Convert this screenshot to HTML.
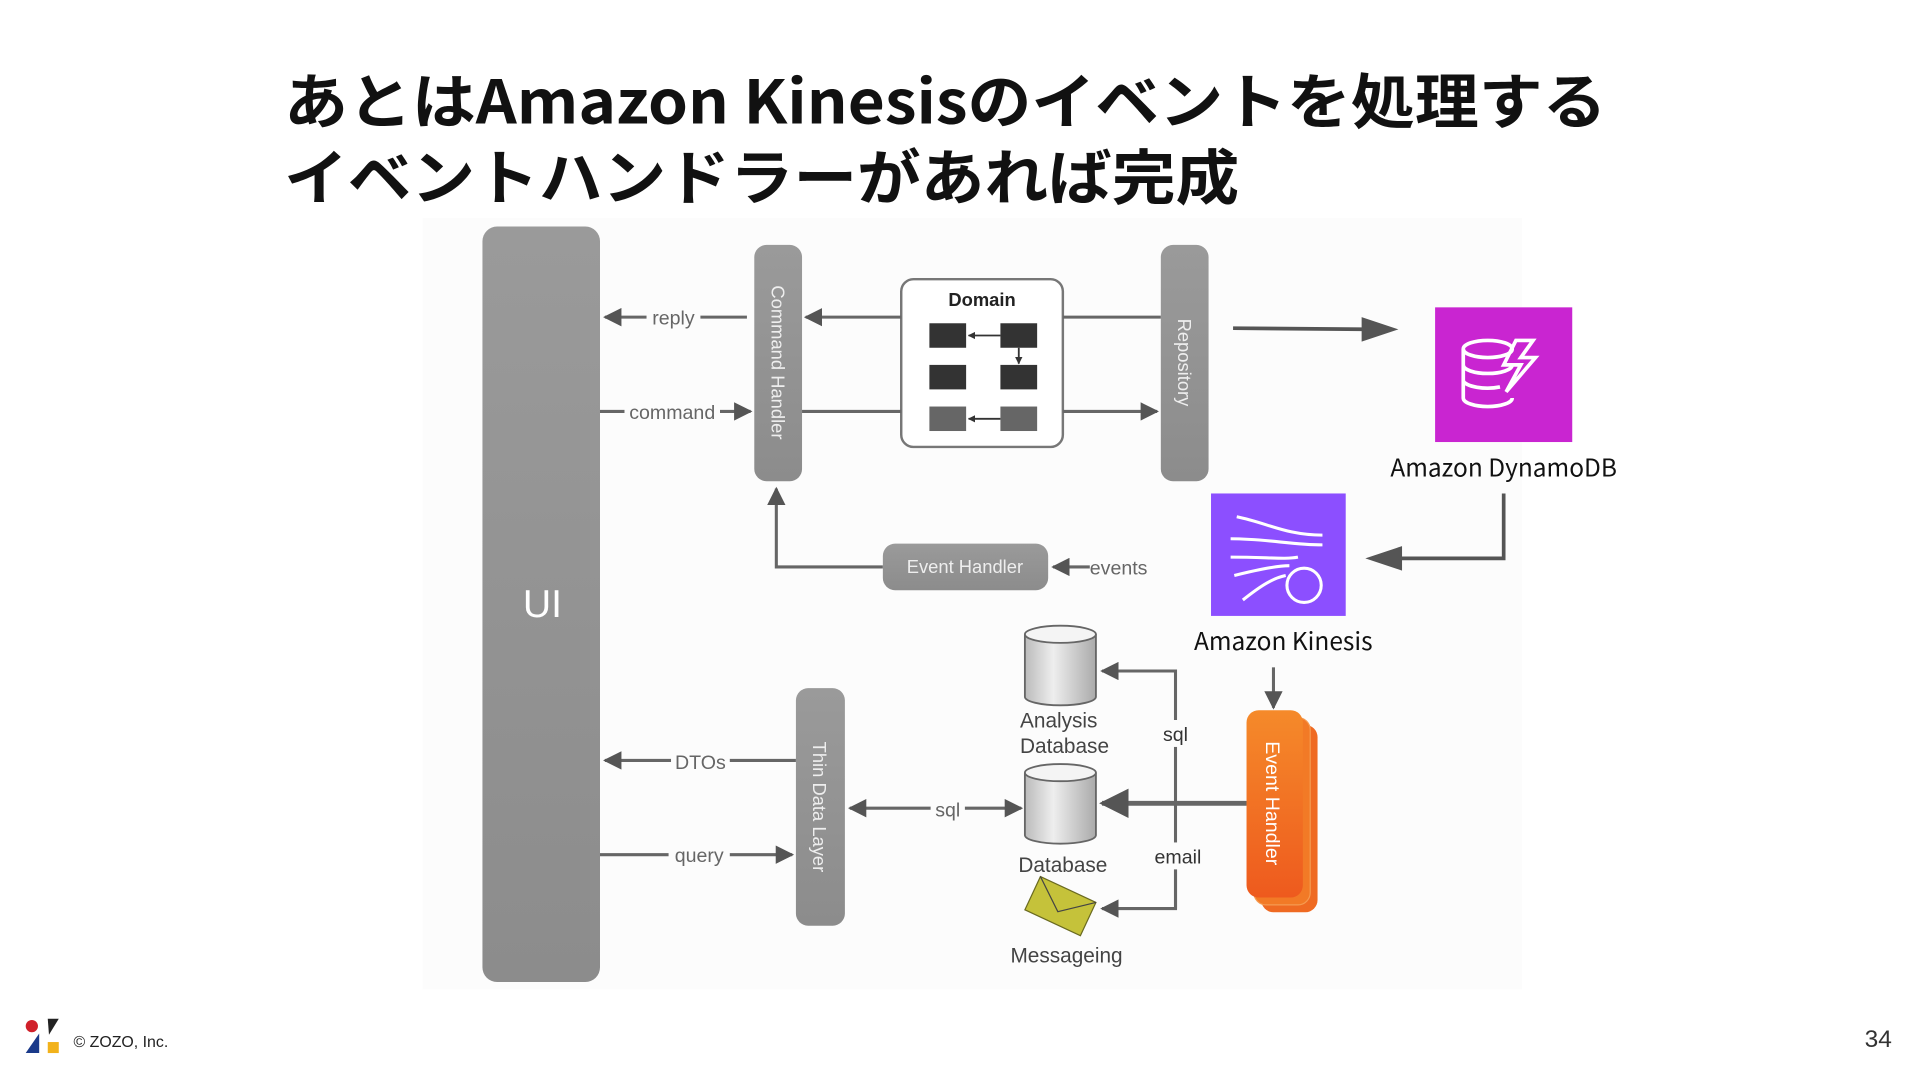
<!DOCTYPE html>
<html><head><meta charset="utf-8"><style>
html,body{margin:0;padding:0;background:#fff;}
svg{display:block;}
text{font-family:"Liberation Sans","Noto Sans CJK JP",sans-serif;}
.t{font-family:"Noto Sans CJK JP",sans-serif;}
</style></head><body>
<svg width="1920" height="1080" viewBox="0 0 1568 882" xmlns="http://www.w3.org/2000/svg">
<defs>
<linearGradient id="g" x1="0" y1="0" x2="0" y2="1"><stop offset="0" stop-color="#9a9a9a"/><stop offset="1" stop-color="#8c8c8c"/></linearGradient>
<linearGradient id="o" x1="0" y1="0" x2="0" y2="1"><stop offset="0" stop-color="#f58a2a"/><stop offset="1" stop-color="#ee5a1e"/></linearGradient>
<linearGradient id="cy" x1="0" y1="0" x2="1" y2="0"><stop offset="0" stop-color="#bbb"/><stop offset=".4" stop-color="#eee"/><stop offset="1" stop-color="#aaa"/></linearGradient>
<marker id="a" viewBox="0 0 10 10" refX="9" refY="5" markerWidth="6" markerHeight="6" orient="auto-start-reverse"><path d="M0,0L10,5L0,10z" fill="#555"/></marker>
<marker id="as" viewBox="0 0 10 10" refX="9" refY="5" markerWidth="4" markerHeight="4" orient="auto"><path d="M0,0L10,5L0,10z" fill="#333"/></marker>
</defs>
<text class="t" x="232" y="101" font-size="49" font-weight="bold" fill="#111" textLength="1080" lengthAdjust="spacingAndGlyphs">あとはAmazon Kinesisのイベントを処理する</text>
<text class="t" x="232" y="163" font-size="49" font-weight="bold" fill="#111" textLength="780" lengthAdjust="spacingAndGlyphs">イベントハンドラーがあれば完成</text>
<rect x="345" y="178" width="898" height="630" fill="#fcfcfc"/>
<!-- UI -->
<rect x="394" y="185" width="96" height="617" rx="12" fill="url(#g)"/>
<text x="443" y="504" font-size="32" fill="#fff" text-anchor="middle">UI</text>
<rect x="616" y="200" width="39" height="193" rx="10" fill="url(#g)"/>
<text transform="translate(630,296) rotate(90)" font-size="15" fill="#eee" text-anchor="middle">Command Handler</text>
<rect x="948" y="200" width="39" height="193" rx="10" fill="url(#g)"/>
<text transform="translate(962,296) rotate(90)" font-size="15" fill="#eee" text-anchor="middle">Repository</text>
<rect x="736" y="228" width="132" height="137" rx="10" fill="#fff" stroke="#777" stroke-width="2"/>
<text x="802" y="250" font-size="15" font-weight="bold" fill="#222" text-anchor="middle">Domain</text>
<rect x="759" y="264" width="30" height="20" fill="#333"/><rect x="817" y="264" width="30" height="20" fill="#333"/>
<rect x="759" y="298" width="30" height="20" fill="#333"/><rect x="817" y="298" width="30" height="20" fill="#333"/>
<rect x="759" y="332" width="30" height="20" fill="#666"/><rect x="817" y="332" width="30" height="20" fill="#666"/>
<line x1="817" y1="274" x2="791" y2="274" stroke="#333" stroke-width="1.5" marker-end="url(#as)"/>
<line x1="832" y1="284" x2="832" y2="297" stroke="#333" stroke-width="1.5" marker-end="url(#as)"/>
<line x1="817" y1="342" x2="791" y2="342" stroke="#333" stroke-width="1.5" marker-end="url(#as)"/>
<g stroke="#666" stroke-width="2.5" fill="none">
<line x1="610" y1="259" x2="494" y2="259" marker-end="url(#a)"/>
<line x1="736" y1="259" x2="658" y2="259" marker-end="url(#a)"/>
<line x1="868" y1="259" x2="948" y2="259"/>
<line x1="490" y1="336" x2="613" y2="336" marker-end="url(#a)"/>
<line x1="655" y1="336" x2="736" y2="336"/>
<line x1="868" y1="336" x2="945" y2="336" marker-end="url(#a)"/>
<polyline points="721,463 634,463 634,399" marker-end="url(#a)"/>
<line x1="890" y1="463" x2="860" y2="463" marker-end="url(#a)"/>
<line x1="650" y1="621" x2="494" y2="621" marker-end="url(#a)"/>
<line x1="490" y1="698" x2="647" y2="698" marker-end="url(#a)"/>
<line x1="694" y1="660" x2="834" y2="660" marker-end="url(#a)" marker-start="url(#a)"/>
<polyline points="960,742 960,548 900,548" marker-end="url(#a)"/>
<polyline points="960,700 960,742 900,742" marker-end="url(#a)"/>
<line x1="1018" y1="656" x2="900" y2="656" stroke-width="4" marker-end="url(#a)"/>
<line x1="1040" y1="545" x2="1040" y2="578" marker-end="url(#a)"/>
</g>
<rect x="528" y="250" width="44" height="18" fill="#fcfcfc"/><text x="550" y="265" font-size="16" fill="#666" text-anchor="middle">reply</text>
<rect x="510" y="327" width="78" height="18" fill="#fcfcfc"/><text x="549" y="342" font-size="16" fill="#666" text-anchor="middle">command</text>
<rect x="548" y="612" width="48" height="18" fill="#fcfcfc"/><text x="572" y="628" font-size="16" fill="#666" text-anchor="middle">DTOs</text>
<rect x="546" y="689" width="50" height="18" fill="#fcfcfc"/><text x="571" y="704" font-size="16" fill="#666" text-anchor="middle">query</text>
<rect x="760" y="651" width="28" height="18" fill="#fcfcfc"/><text x="774" y="667" font-size="16" fill="#666" text-anchor="middle">sql</text>
<text x="890" y="469" font-size="16" fill="#666">events</text>
<rect x="721" y="444" width="135" height="38" rx="10" fill="url(#g)"/>
<text x="788" y="468" font-size="15" fill="#eee" text-anchor="middle">Event Handler</text>
<rect x="650" y="562" width="40" height="194" rx="10" fill="url(#g)"/>
<text transform="translate(664,659) rotate(90)" font-size="15" fill="#eee" text-anchor="middle">Thin Data Layer</text>
<g stroke="#666" stroke-width="1.5">
<path d="M837,518 L837,569 A29,7 0 0 0 895,569 L895,518" fill="url(#cy)"/><ellipse cx="866" cy="518" rx="29" ry="7" fill="#f4f4f4"/>
<path d="M837,631 L837,682 A29,7 0 0 0 895,682 L895,631" fill="url(#cy)"/><ellipse cx="866" cy="631" rx="29" ry="7" fill="#f4f4f4"/>
</g>
<rect x="944" y="588" width="32" height="22" fill="#fcfcfc"/><text x="960" y="605" font-size="16" fill="#333" text-anchor="middle">sql</text>
<rect x="938" y="688" width="46" height="22" fill="#fcfcfc"/><text x="962" y="705" font-size="16" fill="#333" text-anchor="middle">email</text>
<text x="833" y="594" font-size="17" fill="#444">Analysis</text>
<text x="833" y="615" font-size="17" fill="#444">Database</text>
<text x="868" y="712" font-size="17" fill="#444" text-anchor="middle">Database</text>
<text x="871" y="786" font-size="17" fill="#444" text-anchor="middle">Messageing</text>
<g transform="translate(866,740) rotate(25)"><rect x="-25" y="-15" width="50" height="30" fill="#c5c23a" stroke="#6a6a20"/><polyline points="-25,-15 0,5 25,-15" fill="none" stroke="#444"/></g>
<rect x="1030" y="592" width="46" height="153" rx="10" fill="#ef6a22"/>
<rect x="1024" y="586" width="46" height="153" rx="10" fill="#f27a26" stroke="#f59a50"/>
<rect x="1018" y="580" width="46" height="153" rx="10" fill="url(#o)"/>
<text transform="translate(1034,656) rotate(90)" font-size="16" fill="#fff" text-anchor="middle">Event Handler</text>
<line x1="1007" y1="268" x2="1125" y2="269" stroke="#555" stroke-width="3"/>
<path d="M1142,269 L1112,259 L1112,279z" fill="#555"/>
<rect x="1172" y="251" width="112" height="110" fill="#C925D1"/>
<g stroke="#fff" stroke-width="3" fill="none"><ellipse cx="1215" cy="285" rx="20" ry="7"/><path d="M1195,285 v40 a20,7 0 0 0 40,0 M1195,298 a20,7 0 0 0 40,0 M1195,311 a20,7 0 0 0 30,5"/><path d="M1238,278 l-10,20 h14 l-12,22 l24,-28 h-12 l10,-14z"/></g>
<text class="t" x="1228" y="389" font-size="20" fill="#111" text-anchor="middle">Amazon DynamoDB</text>
<polyline points="1228,403 1228,456 1140,456" fill="none" stroke="#555" stroke-width="3"/>
<path d="M1115,456 L1145,446 L1145,466z" fill="#555"/>
<rect x="989" y="403" width="110" height="100" fill="#8C4FFF"/>
<g stroke="#fff" stroke-width="2.5" fill="none"><path d="M1010,422 c25,5 40,15 70,15 M1005,440 c30,0 50,5 75,5 M1005,455 c30,0 45,2 55,0 M1008,470 c20,-5 35,-8 45,-8 M1015,490 c15,-12 25,-18 35,-20"/><circle cx="1065" cy="478" r="14"/></g>
<text class="t" x="1048" y="531" font-size="20" fill="#111" text-anchor="middle">Amazon Kinesis</text>
<circle cx="26" cy="838" r="5" fill="#d0202a"/>
<path d="M39,832 L48,832 L40,845z" fill="#222"/>
<path d="M21,860 L32,844 L32,860z" fill="#1a3a8a"/>
<rect x="39" y="851" width="9" height="9" fill="#f2b21b"/>
<text x="60" y="855" font-size="13" fill="#222">© ZOZO, Inc.</text>
<text x="1545" y="855" font-size="20" fill="#333" text-anchor="end">34</text>
</svg>
</body></html>
